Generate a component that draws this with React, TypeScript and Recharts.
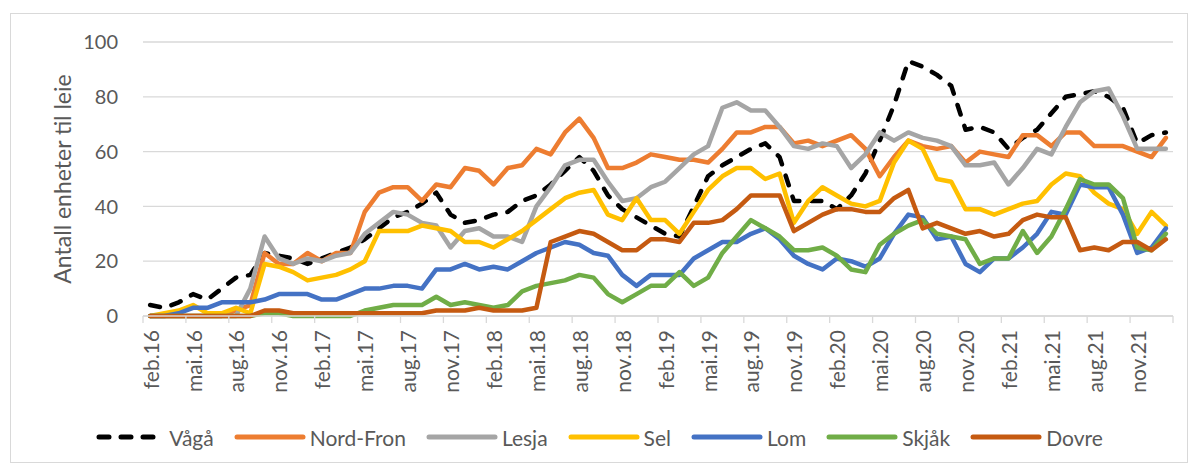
import React from "react";
import { LineChart, Line, XAxis, YAxis, CartesianGrid } from "recharts";

const categories = [
  "feb.16", "mar.16", "apr.16", "mai.16", "jun.16", "jul.16", "aug.16", "sep.16", "okt.16", "nov.16", "des.16", "jan.17",
  "feb.17", "mar.17", "apr.17", "mai.17", "jun.17", "jul.17", "aug.17", "sep.17", "okt.17", "nov.17", "des.17", "jan.18",
  "feb.18", "mar.18", "apr.18", "mai.18", "jun.18", "jul.18", "aug.18", "sep.18", "okt.18", "nov.18", "des.18", "jan.19",
  "feb.19", "mar.19", "apr.19", "mai.19", "jun.19", "jul.19", "aug.19", "sep.19", "okt.19", "nov.19", "des.19", "jan.20",
  "feb.20", "mar.20", "apr.20", "mai.20", "jun.20", "jul.20", "aug.20", "sep.20", "okt.20", "nov.20", "des.20", "jan.21",
  "feb.21", "mar.21", "apr.21", "mai.21", "jun.21", "jul.21", "aug.21", "sep.21", "okt.21", "nov.21", "des.21", "jan.22",
];

const vaga = [
  4, 3, 5, 8, 6, 10, 14, 15, 23, 22, 21, 19,
  21, 23, 25, 28, 32, 36, 38, 41, 45, 37, 34, 35,
  37, 38, 42, 44, 48, 53, 58, 53, 44, 39, 36, 33,
  30, 29, 40, 51, 55, 58, 61, 63, 58, 42, 42, 42,
  39, 44, 52, 64, 77, 93, 91, 88, 84, 68, 69, 67,
  61, 65, 68, 74, 80, 81, 82, 80, 76, 63, 66, 67,
];
const nordFron = [
  0, 0, 0, 0, 0, 0, 2, 4, 23, 19, 19, 23,
  20, 23, 23, 38, 45, 47, 47, 42, 48, 47, 54, 53,
  48, 54, 55, 61, 59, 67, 72, 65, 54, 54, 56, 59,
  58, 57, 57, 56, 61, 67, 67, 69, 69, 63, 64, 62,
  64, 66, 61, 51, 58, 64, 62, 61, 62, 56, 60, 59,
  58, 66, 66, 62, 67, 67, 62, 62, 62, 60, 58, 65,
];
const lesja = [
  0, 0, 0, 0, 0, 0, 0, 10, 29, 21, 19, 21,
  20, 22, 23, 30, 34, 38, 37, 34, 33, 25, 31, 32,
  29, 29, 27, 40, 47, 55, 57, 57, 49, 42, 43, 47,
  49, 54, 59, 62, 76, 78, 75, 75, 69, 62, 61, 63,
  62, 54, 59, 67, 64, 67, 65, 64, 62, 55, 55, 56,
  48, 54, 61, 59, 69, 78, 82, 83, 73, 61, 61, 61,
];
const sel = [
  0, 1, 2, 4, 1, 1, 3, 1, 19, 18, 16, 13,
  14, 15, 17, 20, 31, 31, 31, 33, 32, 31, 27, 27,
  25, 28, 31, 35, 39, 43, 45, 46, 37, 35, 43, 35,
  35, 30, 38, 46, 51, 54, 54, 50, 52, 34, 42, 47,
  44, 41, 40, 42, 56, 64, 61, 50, 49, 39, 39, 37,
  39, 41, 42, 48, 52, 51, 45, 41, 39, 30, 38, 33,
];
const lom = [
  0, 0, 1, 3, 3, 5, 5, 5, 6, 8, 8, 8,
  6, 6, 8, 10, 10, 11, 11, 10, 17, 17, 19, 17,
  18, 17, 20, 23, 25, 27, 26, 23, 22, 15, 11, 15,
  15, 15, 21, 24, 27, 27, 30, 32, 28, 22, 19, 17,
  21, 20, 18, 21, 30, 37, 36, 28, 29, 19, 16, 21,
  21, 25, 30, 38, 37, 48, 47, 47, 37, 23, 25, 32,
];
const skjak = [
  0, 0, 0, 0, 0, 0, 0, 0, 1, 1, 0, 0,
  0, 0, 0, 2, 3, 4, 4, 4, 7, 4, 5, 4,
  3, 4, 9, 11, 12, 13, 15, 14, 8, 5, 8, 11,
  11, 16, 11, 14, 23, 29, 35, 32, 29, 24, 24, 25,
  22, 17, 16, 26, 30, 33, 35, 30, 29, 28, 19, 21,
  21, 31, 23, 29, 39, 50, 48, 48, 43, 25, 24, 30,
];
const dovre = [
  0, 0, 0, 0, 0, 0, 0, 0, 2, 2, 1, 1,
  1, 1, 1, 1, 1, 1, 1, 1, 2, 2, 2, 3,
  2, 2, 2, 3, 27, 29, 31, 30, 27, 24, 24, 28,
  28, 27, 34, 34, 35, 39, 44, 44, 44, 31, 34, 37,
  39, 39, 38, 38, 43, 46, 32, 34, 32, 30, 31, 29,
  30, 35, 37, 36, 36, 24, 25, 24, 27, 27, 24, 28,
];

const yTicks = [0, 20, 40, 60, 80, 100];

const series = [
  { key: "vaga", name: "Vågå", color: "#000000", values: vaga, dashed: true },
  { key: "nordFron", name: "Nord-Fron", color: "#ED7D31", values: nordFron },
  { key: "lesja", name: "Lesja", color: "#A5A5A5", values: lesja },
  { key: "sel", name: "Sel", color: "#FFC000", values: sel },
  { key: "lom", name: "Lom", color: "#4472C4", values: lom },
  { key: "skjak", name: "Skjåk", color: "#70AD47", values: skjak },
  { key: "dovre", name: "Dovre", color: "#C55A11", values: dovre },
];

const data = categories.map((label, i) => {
  const row: Record<string, number | string> = { idx: i, label };
  series.forEach((s) => {
    row[s.key] = s.values[i];
  });
  return row;
});

const W = 1190;
const H = 469;
const Y_AXIS_W = 143;
const X_AXIS_H = 153;
const MARGIN = { top: 42, right: 17, left: 0, bottom: 0 };
const BAND = (W - Y_AXIS_W - MARGIN.right) / categories.length;
const FONT = "Lato, 'Open Sans', sans-serif";
const TEXT = "#595959";
const GRID = "#D9D9D9";
const DASH = "10 12";

// tick marks sit on category boundaries, every third month
const xTicks = categories
  .map((_, i) => i - 0.5)
  .filter((_, i) => i % 3 === 0)
  .concat([categories.length - 0.5]);

function MonthTick(props: any) {
  const { x, y, payload } = props;
  const i = Math.round(payload.value + 0.5);
  if (i >= categories.length) return <g />;
  const cx = x + BAND / 2;
  return (
    <text
      x={cx}
      y={y}
      transform={`rotate(-90 ${cx} ${y})`}
      textAnchor="end"
      dominantBaseline="central"
      fontSize={21}
      fontFamily={FONT}
      fill={TEXT}
    >
      {categories[i]}
    </text>
  );
}

function YTitle(props: any) {
  const { viewBox } = props;
  const cx = 62;
  const cy = viewBox.y + viewBox.height / 2;
  return (
    <text
      x={cx}
      y={cy}
      transform={`rotate(-90 ${cx} ${cy})`}
      textAnchor="middle"
      dominantBaseline="central"
      fontSize={23}
      fontFamily={FONT}
      fill={TEXT}
    >
      Antall enheter til leie
    </text>
  );
}

function LegendRow() {
  return (
    <div
      style={{
        position: "absolute",
        left: 0,
        top: 424,
        width: 1216,
        height: 26,
        display: "flex",
        justifyContent: "center",
        alignItems: "center",
        fontFamily: FONT,
        fontSize: 21,
        color: TEXT,
      }}
    >
      {series.map((s) => (
        <div key={s.key} style={{ display: "flex", alignItems: "center", marginRight: 20 }}>
          <svg width={72} height={10} style={{ marginRight: 4 }}>
            {s.dashed ? (
              <line x1={6} y1={5} x2={66} y2={5} stroke={s.color} strokeWidth={5}
                strokeDasharray={DASH} strokeLinecap="round" />
            ) : (
              <line x1={3} y1={5} x2={69} y2={5} stroke={s.color} strokeWidth={5} strokeLinecap="round" />
            )}
          </svg>
          <span>{s.name}</span>
        </div>
      ))}
    </div>
  );
}

export default function App() {
  return (
    <div style={{ position: "fixed", left: 0, top: 0, width: W, height: H, background: "#fff" }}>
      <div
        style={{
          position: "absolute",
          left: 10,
          top: 13,
          width: 1178,
          height: 450,
          border: `1px solid ${GRID}`,
          boxSizing: "border-box",
        }}
      />
      <div style={{ position: "absolute", left: 0, top: 0 }}>
        <LineChart width={W} height={H} data={data} margin={MARGIN}>
          <CartesianGrid vertical={false} stroke={GRID} strokeWidth={1.3} />
          <XAxis
            dataKey="idx"
            type="number"
            domain={[-0.5, categories.length - 0.5]}
            ticks={xTicks}
            interval={0}
            height={X_AXIS_H}
            tick={<MonthTick />}
            tickSize={7}
            tickMargin={7}
            tickLine={{ stroke: GRID, strokeWidth: 1.3 }}
            axisLine={{ stroke: GRID, strokeWidth: 1.3 }}
          />
          <YAxis
            domain={[0, 100]}
            ticks={yTicks}
            width={Y_AXIS_W}
            axisLine={false}
            tickLine={false}
            tickMargin={19}
            tick={{ fontSize: 20, fill: TEXT, fontFamily: FONT }}
            label={<YTitle />}
          />
          {series.map((s) => (
            <Line
              key={s.key}
              dataKey={s.key}
              name={s.name}
              type="linear"
              stroke={s.color}
              strokeWidth={4.5}
              strokeDasharray={s.dashed ? DASH : undefined}
              strokeLinecap="round"
              strokeLinejoin="round"
              dot={false}
              activeDot={false}
              isAnimationActive={false}
            />
          ))}
        </LineChart>
      </div>
      <LegendRow />
    </div>
  );
}
